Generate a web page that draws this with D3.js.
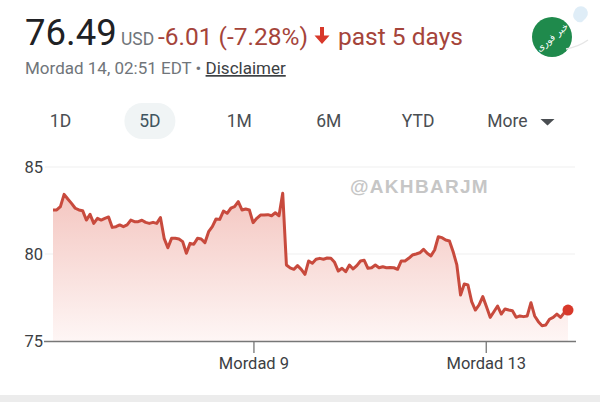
<!DOCTYPE html>
<html>
<head>
<meta charset="utf-8">
<script src="https://cdn.jsdelivr.net/npm/d3@7"></script>
<style>
  html, body { margin: 0; padding: 0; background: #fff; }
  svg { display: block; font-family: Roboto, "Noto Sans", sans-serif; }
</style>
</head>
<body>
<div id="chart"></div>
<script>
// 5 day price series (one value per sample)
const prices = [
  82.53, 82.53, 82.72, 83.43, 83.16, 82.91, 82.63, 82.53, 82.49, 81.95,
  82.28, 81.76, 82.05, 81.95, 82.05, 82.13, 81.53, 81.57, 81.67, 81.57,
  81.67, 81.95, 81.86, 81.86, 81.94, 81.82, 81.76, 81.82, 81.76,
  82.10, 80.90, 80.36, 80.90, 80.90, 80.86, 80.71, 80.04, 80.61, 80.56, 80.90, 80.86,
  80.65, 81.28, 81.57, 82.01, 81.99, 82.47, 82.34, 82.63, 82.72, 83.01,
  82.53, 82.59, 82.53, 81.80, 82.05, 82.24, 82.24, 82.26, 82.20, 82.37, 82.20,
  83.49, 79.37, 79.20,
  79.12, 79.33, 79.12, 78.83, 79.60, 79.47, 79.70, 79.75, 79.70, 79.77,
  79.75, 79.52, 79.02, 79.18, 78.98, 79.37, 79.14, 79.33, 79.60, 79.64,
  79.18, 79.21, 79.37, 79.21, 79.27, 79.21, 79.23, 79.21, 79.12, 79.60,
  79.60, 79.75, 79.94, 80.00, 80.07, 80.27, 80.04, 79.89, 80.23, 80.99,
  80.94, 80.80, 80.75, 80.13, 79.37, 77.64, 78.28, 78.22, 77.26, 76.78,
  77.07, 77.55, 76.97, 76.36, 76.68, 77.01, 76.55, 76.84, 76.78, 76.74,
  76.36, 76.44, 76.40, 76.44, 77.20, 76.44, 76.11, 75.88, 75.92, 76.25,
  76.36, 76.55, 76.36, 76.63, 76.78
];

const yTicks = [75, 80, 85];
const xTickLabels = ["Mordad 9", "Mordad 13"];
const xTickIndex = [54.1, 116.8];   // sample index where each day label sits
const ranges = ["1D", "5D", "1M", "6M", "YTD", "More"];

const width = 600, height = 402;
const colors = {
  line: "#c84a3d",
  dot: "#d8382a",
  red: "#a5443a",
  text: "#3c4043",
  grey: "#70757a"
};

const svg = d3.select("#chart").append("svg")
  .attr("width", width)
  .attr("height", height);

// header
const head = svg.append("g");
head.append("text").attr("x", 25).attr("y", 44.5)
  .attr("font-size", 36.5).attr("fill", "#202124").text("76.49");
head.append("text").attr("x", 121).attr("y", 44.5)
  .attr("font-size", 17.5).attr("fill", colors.grey).text("USD");
head.append("text").attr("x", 158).attr("y", 44.5)
  .attr("font-size", 24.5).attr("fill", colors.red).text("-6.01 (-7.28%)");
// down arrow
head.append("path")
  .attr("d", "M320,27 h4 v8.5 h5.5 L322,44 L314.5,35.5 h5.5 Z")
  .attr("fill", colors.dot);
head.append("text").attr("x", 338).attr("y", 44.5)
  .attr("font-size", 24.5).attr("fill", colors.red).text("past 5 days");

const sub = head.append("text").attr("x", 25).attr("y", 74)
  .attr("font-size", 17).attr("fill", colors.grey);
sub.append("tspan").text("Mordad 14, 02:51 EDT \u2022 ");
sub.append("tspan").attr("fill", colors.text)
  .style("text-decoration", "underline").text("Disclaimer");

// logo
const logo = svg.append("g").attr("transform", "translate(552,37)");
logo.append("path")
  .attr("d", "M22,-25 a7,7 0 1,1 12,6 l-4,4 a7,7 0 0,1 -8,-10 Z")
  .attr("fill", "#d7e9f5").attr("opacity", 0.8);
logo.append("circle").attr("r", 20).attr("fill", "#1f8a4c");
logo.append("text")
  .attr("transform", "rotate(-40)")
  .attr("text-anchor", "middle").attr("dy", 3.5)
  .attr("font-family", "DejaVu Sans").attr("font-size", 9.5)
  .attr("fill", "#fff").text("خبر فوری");
logo.append("path")
  .attr("d", "M14,12 q12,-2 22,-9")
  .attr("fill", "none").attr("stroke", "#e6e6e6").attr("stroke-width", 1.5);

// range tabs
const tabX = d3.scalePoint().domain(ranges).range([60.5, 507.5]);
svg.append("rect")
  .attr("x", tabX("5D") - 25.5).attr("y", 103)
  .attr("width", 51).attr("height", 36).attr("rx", 18)
  .attr("fill", "#f0f4f5");
svg.append("g").selectAll("text")
  .data(ranges)
  .join("text")
  .attr("x", d => tabX(d))
  .attr("y", 127)
  .attr("text-anchor", "middle")
  .attr("font-size", 17.5)
  .attr("fill", d => d === "5D" ? "#3f5560" : "#4a4e52")
  .text(d => d);
svg.append("path")
  .attr("d", `M${tabX("More") + 33},119 h14 l-7,6.5 Z`)
  .attr("fill", "#4a4e52");

// chart
const x = d3.scaleLinear().domain([0, prices.length - 1]).range([53, 568]);
const y = d3.scaleLinear().domain([75, 85]).range([341, 167]);

// gridlines
svg.append("g").selectAll("line")
  .data(yTicks.filter(d => d !== 75))
  .join("line")
  .attr("x1", 45).attr("x2", 575)
  .attr("y1", d => y(d)).attr("y2", d => y(d))
  .attr("stroke", "#efefef").attr("stroke-width", 1);

svg.append("g").selectAll("text")
  .data(yTicks)
  .join("text")
  .attr("x", 43).attr("y", d => y(d)).attr("dy", "0.35em")
  .attr("text-anchor", "end")
  .attr("font-size", 16.5).attr("fill", colors.text)
  .text(d => d);

// gradient area
const grad = svg.append("defs").append("linearGradient")
  .attr("id", "fade")
  .attr("gradientUnits", "userSpaceOnUse")
  .attr("x1", 0).attr("x2", 0)
  .attr("y1", y(84)).attr("y2", y(75));
grad.append("stop").attr("offset", 0).attr("stop-color", "#f3c3bd");
grad.append("stop").attr("offset", 1).attr("stop-color", "#fef6f5");

const area = d3.area()
  .x((d, i) => x(i))
  .y0(y(75))
  .y1(d => y(d));
svg.append("path").datum(prices)
  .attr("d", area)
  .attr("fill", "url(#fade)");

const line = d3.line()
  .x((d, i) => x(i))
  .y(d => y(d));
svg.append("path").datum(prices)
  .attr("d", line)
  .attr("fill", "none")
  .attr("stroke", colors.line)
  .attr("stroke-width", 3)
  .attr("stroke-linejoin", "round");

svg.append("circle")
  .attr("cx", x(prices.length - 1))
  .attr("cy", y(prices[prices.length - 1]))
  .attr("r", 5.5)
  .attr("fill", colors.dot);

// watermark
svg.append("text")
  .attr("x", 350).attr("y", 193)
  .attr("font-family", "Liberation Sans, Arial, sans-serif")
  .attr("font-weight", "bold").attr("font-size", 19)
  .attr("letter-spacing", 1.3)
  .attr("fill", "#c6c6c6")
  .text("@AKHBARJM");

// x axis
const xAxis = d3.axisBottom(x)
  .tickValues(xTickIndex)
  .tickFormat((d, i) => xTickLabels[i])
  .tickSize(12)
  .tickSizeOuter(0)
  .tickPadding(4);
const gx = svg.append("g")
  .attr("transform", `translate(0,${y(75)})`)
  .call(xAxis);
gx.select(".domain").attr("d", "M44,0.5H576").attr("stroke", "#777").attr("stroke-width", 1.5);
gx.selectAll(".tick line").attr("stroke", "#777").attr("stroke-width", 1.3);
gx.selectAll(".tick text")
  .attr("font-family", "Roboto").attr("font-size", 16.5)
  .attr("fill", colors.text);

// grey strip at the bottom
svg.append("rect")
  .attr("x", 0).attr("y", 395)
  .attr("width", width).attr("height", 7)
  .attr("fill", "#ececec");
</script>
</body>
</html>
